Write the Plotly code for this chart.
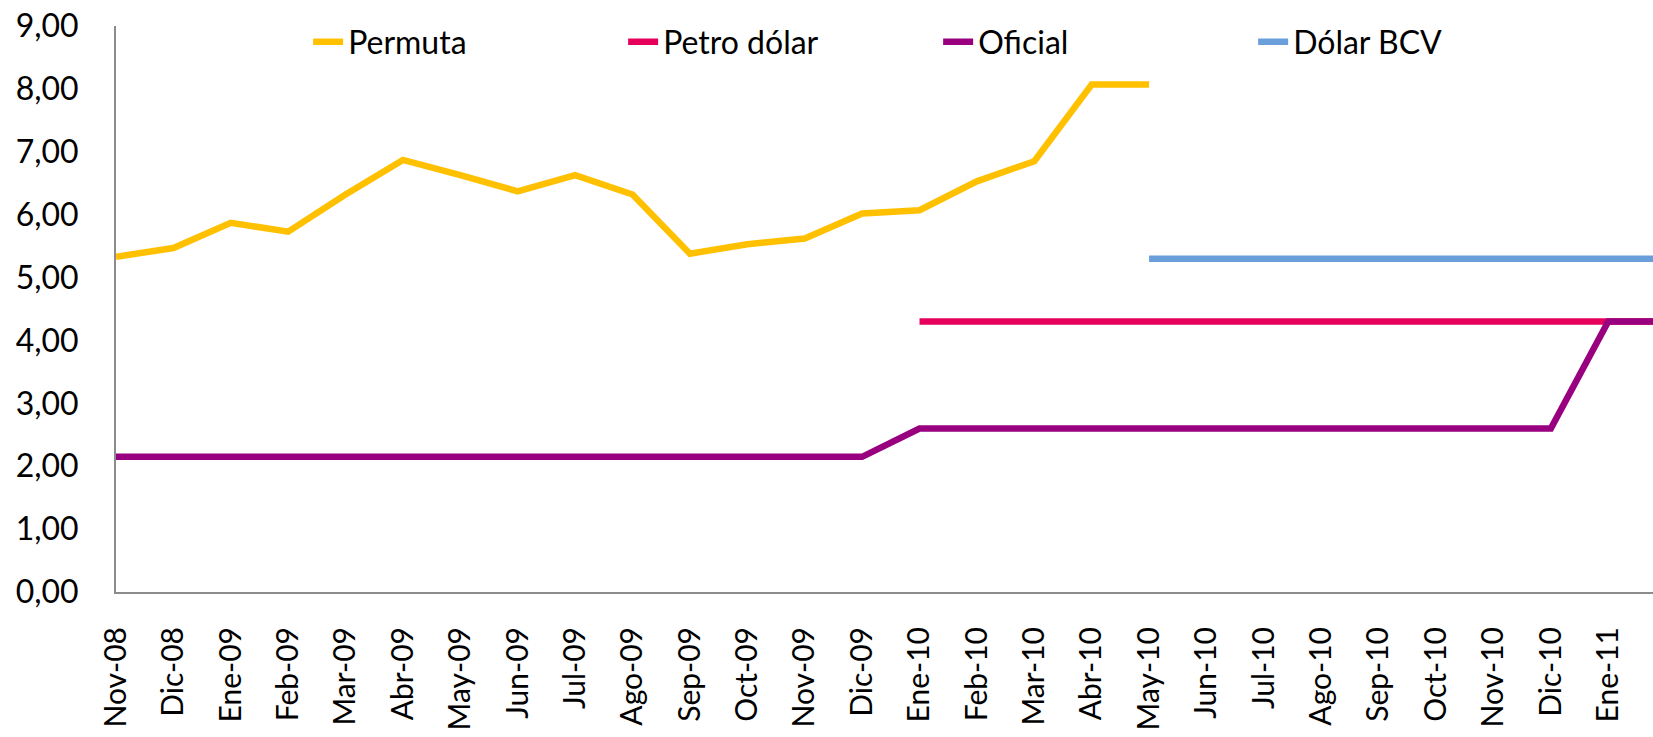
import plotly.graph_objects as go

meses = ["Nov-08", "Dic-08", "Ene-09", "Feb-09", "Mar-09", "Abr-09", "May-09",
         "Jun-09", "Jul-09", "Ago-09", "Sep-09", "Oct-09", "Nov-09", "Dic-09",
         "Ene-10", "Feb-10", "Mar-10", "Abr-10", "May-10", "Jun-10", "Jul-10",
         "Ago-10", "Sep-10", "Oct-10", "Nov-10", "Dic-10", "Ene-11", "Feb-11"]

permuta = [5.33, 5.47, 5.87, 5.73, 6.32, 6.87, 6.63, 6.37, 6.63, 6.32, 5.38,
           5.53, 5.62, 6.02, 6.07, 6.53, 6.85, 8.07, 8.07,
           None, None, None, None, None, None, None, None, None]
petro_dolar = [None] * 14 + [4.30] * 14
oficial = [2.15] * 14 + [2.60] * 12 + [4.30, 4.30]
dolar_bcv = [None] * 18 + [5.30] * 10

series = [
    ("Permuta", permuta, "#FFC000"),
    ("Petro dólar", petro_dolar, "#E6005C"),
    ("Oficial", oficial, "#990080"),
    ("Dólar BCV", dolar_bcv, "#6A9FDB"),
]

fig = go.Figure()
for name, vals, color in series:
    fig.add_trace(go.Scatter(x=meses, y=vals, name=name, mode="lines",
                             line=dict(color=color, width=6.5)))

fig.update_layout(
    width=1653, height=737,
    margin=dict(l=116, r=0, t=26, b=145, autoexpand=False),
    plot_bgcolor="white", paper_bgcolor="white",
    separators=",.",
    font=dict(family="Lato", size=32, color="black"),
    showlegend=True,
    legend=dict(orientation="h", x=0.125, y=0.972, xanchor="left", yanchor="middle",
                entrywidth=270, entrywidthmode="pixels",
                font=dict(size=32), bgcolor="rgba(0,0,0,0)"),
    xaxis=dict(type="category", categoryorder="array", categoryarray=meses,
               range=[0, 26.78], tickangle=-90, showgrid=False, zeroline=False,
               showline=True, linecolor="#8c8c8c", linewidth=2,
               ticks="", ticklabelstandoff=21, tickfont=dict(size=30)),
    yaxis=dict(range=[0, 9], dtick=1, tickformat=".2f", showgrid=False,
               zeroline=False, showline=True, linecolor="#8c8c8c", linewidth=2,
               ticks="", ticklabelstandoff=29),
)

# drop the default body margin so the figure sits at the page corner
fig.write_html("out.html", config={"displayModeBar": False},
               post_script="document.body.style.margin='0';"
                           "document.documentElement.style.overflow='hidden';")
